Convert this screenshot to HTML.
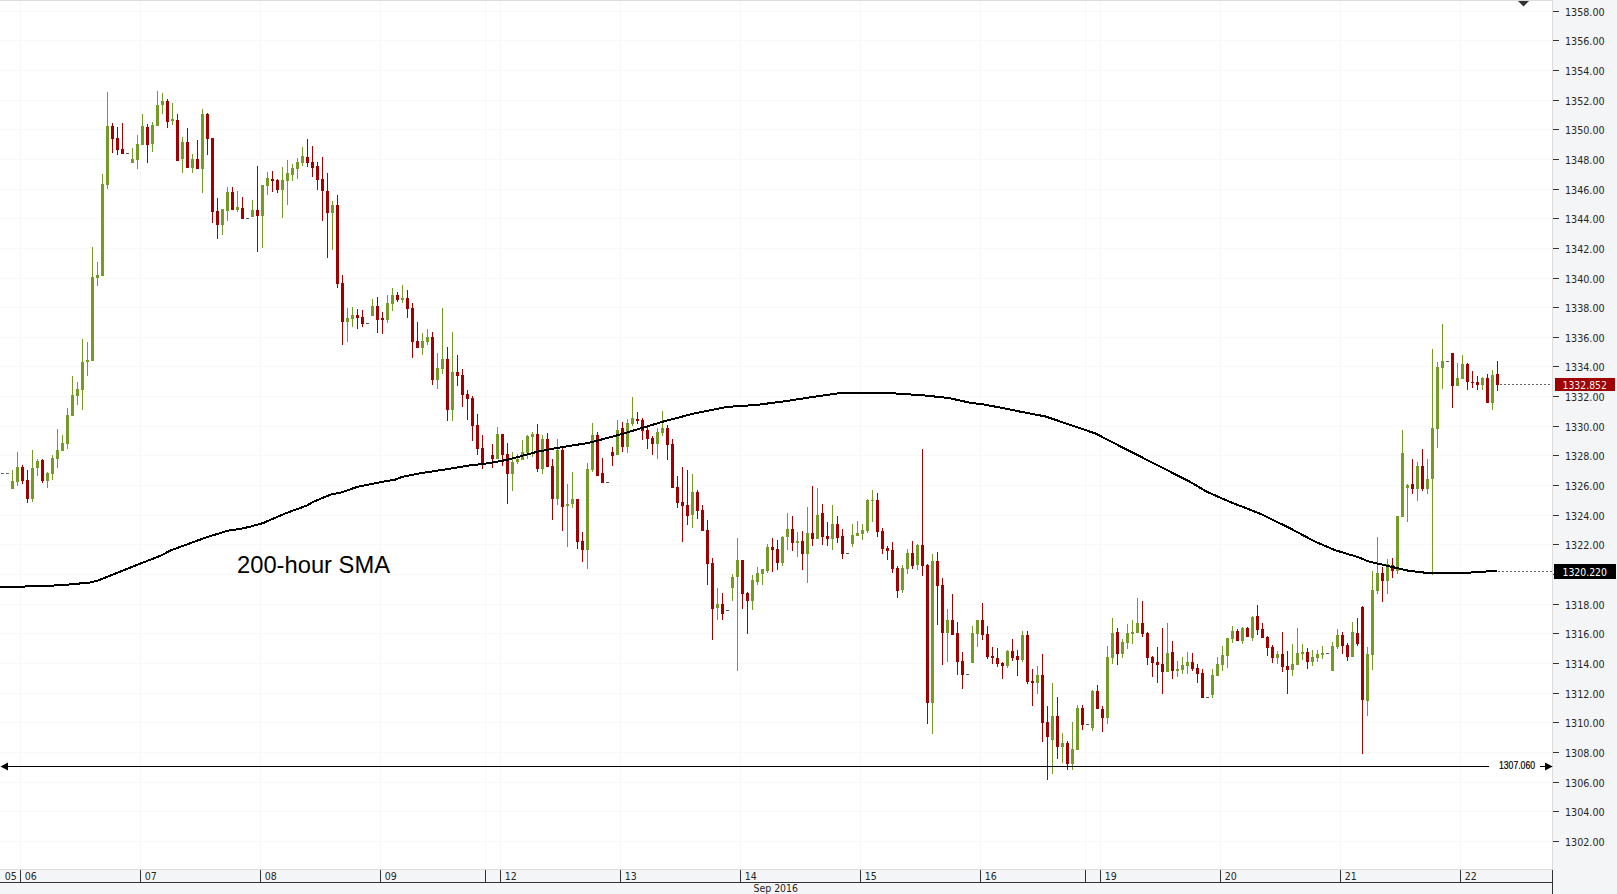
<!DOCTYPE html>
<html lang="en"><head><meta charset="utf-8"><title>XAU/USD 1H Chart</title>
<style>html,body{margin:0;padding:0;background:#fff;}body{width:1617px;height:894px;overflow:hidden;}svg{display:block;}text{font-family:"Liberation Sans",Arial,sans-serif;}.ax{font-family:"DejaVu Sans Condensed","DejaVu Sans","Liberation Sans",sans-serif;}</style>
</head><body>
<svg width="1617" height="894" viewBox="0 0 1617 894">
<rect x="0" y="0" width="1617" height="894" fill="#ffffff"/>
<g shape-rendering="crispEdges">
<rect x="1553" y="0" width="64" height="894" fill="#f4f5f7"/>
<rect x="0" y="870" width="1553" height="24" fill="#f4f5f7"/>
<path d="M0 11.5H1552M0 40.5H1552M0 70.5H1552M0 100.5H1552M0 129.5H1552M0 159.5H1552M0 189.5H1552M0 218.5H1552M0 248.5H1552M0 278.5H1552M0 307.5H1552M0 337.5H1552M0 366.5H1552M0 396.5H1552M0 426.5H1552M0 455.5H1552M0 485.5H1552M0 515.5H1552M0 544.5H1552M0 574.5H1552M0 604.5H1552M0 633.5H1552M0 663.5H1552M0 693.5H1552M0 722.5H1552M0 752.5H1552M0 782.5H1552M0 811.5H1552M0 841.5H1552M20.5 1V869M140.5 1V869M260.5 1V869M380.5 1V869M485.5 1V869M500.5 1V869M620.5 1V869M740.5 1V869M860.5 1V869M980.5 1V869M1085.5 1V869M1100.5 1V869M1220.5 1V869M1340.5 1V869M1460.5 1V869" stroke="#f8f8f8" stroke-width="1" fill="none"/>
<rect x="0" y="0" width="1553" height="1" fill="#dcdcdc"/>
<rect x="1552" y="0" width="1" height="870" fill="#dcdcdc"/>
<rect x="0" y="869" width="1552" height="1" fill="#dcdcdc"/>
<rect x="1552" y="870" width="1" height="24" fill="#333"/>
<rect x="0" y="882" width="1553" height="1" fill="#333"/>
<path d="M20.5 870V882M140.5 870V882M260.5 870V882M380.5 870V882M485.5 870V882M500.5 870V882M620.5 870V882M740.5 870V882M860.5 870V882M980.5 870V882M1085.5 870V882M1100.5 870V882M1220.5 870V882M1340.5 870V882M1460.5 870V882M1553 11.5H1559M1553 40.5H1559M1553 70.5H1559M1553 100.5H1559M1553 129.5H1559M1553 159.5H1559M1553 189.5H1559M1553 218.5H1559M1553 248.5H1559M1553 278.5H1559M1553 307.5H1559M1553 337.5H1559M1553 366.5H1559M1553 396.5H1559M1553 426.5H1559M1553 455.5H1559M1553 485.5H1559M1553 515.5H1559M1553 544.5H1559M1553 574.5H1559M1553 604.5H1559M1553 633.5H1559M1553 663.5H1559M1553 693.5H1559M1553 722.5H1559M1553 752.5H1559M1553 782.5H1559M1553 811.5H1559M1553 841.5H1559" stroke="#333" stroke-width="1" fill="none"/>
</g>
<path d="M1518 1H1529L1523.5 6.5Z" fill="#333"/>
<path d="M1 473.5H4M6 473.5H9" stroke="#666" stroke-width="1" shape-rendering="crispEdges"/>
<g shape-rendering="crispEdges">
<path d="M12 470h1V489h-1zM11 481h3V489h-3zM17 452h1V486h-1zM16 467h3V482h-3zM32 450h1V502h-1zM31 468h3V499h-3zM37 459h1V476h-1zM36 461h3V468h-3zM47 472h1V488h-1zM46 473h3V481h-3zM52 455h1V480h-1zM51 458h3V474h-3zM57 429h1V468h-1zM56 450h3V459h-3zM62 435h1V451h-1zM61 443h3V451h-3zM67 408h1V449h-1zM66 415h3V444h-3zM72 376h1V416h-1zM71 395h3V416h-3zM77 382h1V405h-1zM76 389h3V396h-3zM82 339h1V410h-1zM81 362h3V390h-3zM87 342h1V376h-1zM86 360h3V362h-3zM92 247h1V361h-1zM91 277h3V361h-3zM97 262h1V286h-1zM96 275h3V278h-3zM102 174h1V276h-1zM101 184h3V276h-3zM107 92h1V189h-1zM106 126h3V185h-3zM132 148h1V163h-1zM131 159h3V163h-3zM137 135h1V169h-1zM136 144h3V160h-3zM142 114h1V145h-1zM141 126h3V145h-3zM152 122h1V152h-1zM151 125h3V144h-3zM157 91h1V126h-1zM156 105h3V126h-3zM162 93h1V114h-1zM161 101h3V105h-3zM172 103h1V125h-1zM171 119h3V121h-3zM182 137h1V173h-1zM181 142h3V159h-3zM192 154h1V173h-1zM191 159h3V168h-3zM202 109h1V193h-1zM201 114h3V169h-3zM222 209h1V235h-1zM221 209h3V225h-3zM227 187h1V221h-1zM226 192h3V211h-3zM237 191h1V212h-1zM236 207h3V210h-3zM252 200h1V217h-1zM251 210h3V217h-3zM262 185h1V248h-1zM261 185h3V216h-3zM267 172h1V195h-1zM266 178h3V186h-3zM282 167h1V218h-1zM281 180h3V190h-3zM287 160h1V205h-1zM286 173h3V181h-3zM292 164h1V181h-1zM291 168h3V175h-3zM297 158h1V179h-1zM296 162h3V169h-3zM302 147h1V166h-1zM301 156h3V163h-3zM332 201h1V250h-1zM331 205h3V213h-3zM347 308h1V342h-1zM346 318h3V322h-3zM352 307h1V327h-1zM351 315h3V319h-3zM372 299h1V316h-1zM371 306h3V316h-3zM387 295h1V323h-1zM386 303h3V320h-3zM392 288h1V311h-1zM391 295h3V304h-3zM402 285h1V303h-1zM401 298h3V300h-3zM422 333h1V355h-1zM421 341h3V348h-3zM427 329h1V345h-1zM426 337h3V342h-3zM437 353h1V389h-1zM436 368h3V380h-3zM442 308h1V374h-1zM441 359h3V369h-3zM452 332h1V421h-1zM451 372h3V410h-3zM497 427h1V459h-1zM496 434h3V459h-3zM512 452h1V491h-1zM511 462h3V474h-3zM517 454h1V464h-1zM516 459h3V462h-3zM522 440h1V460h-1zM521 452h3V460h-3zM527 435h1V459h-1zM526 436h3V453h-3zM532 432h1V457h-1zM531 434h3V437h-3zM542 435h1V474h-1zM541 439h3V469h-3zM557 439h1V505h-1zM556 450h3V499h-3zM567 484h1V547h-1zM566 504h3V506h-3zM572 472h1V508h-1zM571 499h3V504h-3zM587 463h1V569h-1zM586 469h3V550h-3zM592 423h1V472h-1zM591 435h3V470h-3zM617 420h1V455h-1zM616 430h3V455h-3zM627 419h1V453h-1zM626 423h3V447h-3zM632 397h1V426h-1zM631 418h3V424h-3zM657 428h1V459h-1zM656 432h3V444h-3zM662 411h1V436h-1zM661 428h3V433h-3zM692 474h1V528h-1zM691 492h3V515h-3zM717 588h1V620h-1zM716 604h3V608h-3zM732 574h1V601h-1zM731 577h3V588h-3zM737 538h1V671h-1zM736 560h3V577h-3zM752 575h1V610h-1zM751 580h3V601h-3zM757 567h1V585h-1zM756 573h3V582h-3zM762 569h1V585h-1zM761 569h3V574h-3zM767 544h1V573h-1zM766 547h3V571h-3zM782 536h1V566h-1zM781 537h3V563h-3zM787 513h1V550h-1zM786 529h3V537h-3zM797 532h1V557h-1zM796 541h3V543h-3zM807 507h1V583h-1zM806 533h3V554h-3zM817 488h1V539h-1zM816 515h3V539h-3zM832 505h1V550h-1zM831 524h3V539h-3zM852 524h1V547h-1zM851 535h3V544h-3zM857 521h1V536h-1zM856 533h3V536h-3zM862 524h1V540h-1zM861 530h3V534h-3zM867 499h1V533h-1zM866 500h3V531h-3zM872 490h1V522h-1zM871 500h3V501h-3zM902 565h1V593h-1zM901 568h3V590h-3zM907 549h1V574h-1zM906 553h3V569h-3zM917 544h1V570h-1zM916 545h3V565h-3zM932 554h1V734h-1zM931 561h3V703h-3zM947 609h1V662h-1zM946 620h3V633h-3zM972 626h1V663h-1zM971 633h3V663h-3zM977 620h1V647h-1zM976 620h3V634h-3zM1007 650h1V668h-1zM1006 651h3V666h-3zM1022 631h1V662h-1zM1021 635h3V660h-3zM1037 666h1V694h-1zM1036 675h3V683h-3zM1052 683h1V774h-1zM1051 716h3V740h-3zM1062 733h1V763h-1zM1061 743h3V747h-3zM1072 722h1V770h-1zM1071 749h3V764h-3zM1077 705h1V750h-1zM1076 708h3V750h-3zM1092 690h1V731h-1zM1091 691h3V728h-3zM1107 646h1V724h-1zM1106 657h3V718h-3zM1112 618h1V664h-1zM1111 633h3V658h-3zM1122 639h1V658h-1zM1121 642h3V654h-3zM1127 624h1V649h-1zM1126 633h3V643h-3zM1132 620h1V644h-1zM1131 632h3V634h-3zM1137 598h1V633h-1zM1136 623h3V633h-3zM1167 623h1V672h-1zM1166 653h3V672h-3zM1177 661h1V677h-1zM1176 669h3V671h-3zM1182 657h1V674h-1zM1181 665h3V670h-3zM1187 652h1V674h-1zM1186 662h3V666h-3zM1212 669h1V698h-1zM1211 675h3V695h-3zM1217 657h1V676h-1zM1216 664h3V676h-3zM1222 646h1V671h-1zM1221 655h3V665h-3zM1227 638h1V668h-1zM1226 638h3V656h-3zM1232 626h1V643h-1zM1231 631h3V639h-3zM1242 627h1V644h-1zM1241 628h3V641h-3zM1252 616h1V641h-1zM1251 617h3V638h-3zM1277 651h1V664h-1zM1276 654h3V658h-3zM1292 644h1V676h-1zM1291 664h3V670h-3zM1297 628h1V665h-1zM1296 653h3V665h-3zM1302 644h1V660h-1zM1301 652h3V654h-3zM1312 650h1V666h-1zM1311 657h3V662h-3zM1317 650h1V662h-1zM1316 654h3V658h-3zM1322 646h1V659h-1zM1321 653h3V655h-3zM1332 642h1V671h-1zM1331 646h3V671h-3zM1337 629h1V649h-1zM1336 635h3V647h-3zM1352 622h1V657h-1zM1351 632h3V657h-3zM1367 647h1V716h-1zM1366 654h3V701h-3zM1372 571h1V670h-1zM1371 590h3V655h-3zM1377 537h1V594h-1zM1376 573h3V591h-3zM1387 559h1V594h-1zM1386 564h3V581h-3zM1397 516h1V574h-1zM1396 516h3V571h-3zM1402 430h1V517h-1zM1401 453h3V517h-3zM1407 484h1V522h-1zM1406 485h3V488h-3zM1417 462h1V501h-1zM1416 466h3V489h-3zM1427 459h1V494h-1zM1426 479h3V489h-3zM1432 349h1V575h-1zM1431 428h3V479h-3zM1437 362h1V448h-1zM1436 367h3V429h-3zM1442 324h1V389h-1zM1441 361h3V368h-3zM1457 363h1V386h-1zM1456 378h3V386h-3zM1462 355h1V379h-1zM1461 364h3V379h-3zM1482 377h1V390h-1zM1481 378h3V385h-3zM1492 370h1V410h-1zM1491 375h3V403h-3z" fill="#759b27"/>
<path d="M22 465h1V484h-1zM21 467h3V481h-3zM27 470h1V503h-1zM26 480h3V499h-3zM42 459h1V483h-1zM41 460h3V481h-3zM112 123h1V153h-1zM111 126h3V139h-3zM117 127h1V155h-1zM116 138h3V150h-3zM122 123h1V154h-1zM121 149h3V154h-3zM147 124h1V163h-1zM146 127h3V145h-3zM167 99h1V128h-1zM166 101h3V122h-3zM177 114h1V161h-1zM176 120h3V161h-3zM187 128h1V168h-1zM186 142h3V168h-3zM197 140h1V169h-1zM196 159h3V169h-3zM207 113h1V155h-1zM206 114h3V139h-3zM212 138h1V223h-1zM211 138h3V212h-3zM217 198h1V239h-1zM216 211h3V225h-3zM232 187h1V210h-1zM231 192h3V210h-3zM242 197h1V219h-1zM241 208h3V219h-3zM257 166h1V252h-1zM256 210h3V216h-3zM272 171h1V192h-1zM271 179h3V181h-3zM277 179h1V193h-1zM276 180h3V190h-3zM307 139h1V167h-1zM306 157h3V163h-3zM312 146h1V177h-1zM311 162h3V168h-3zM317 162h1V190h-1zM316 166h3V180h-3zM322 157h1V221h-1zM321 179h3V191h-3zM327 173h1V258h-1zM326 191h3V213h-3zM337 195h1V288h-1zM336 205h3V284h-3zM342 275h1V345h-1zM341 283h3V322h-3zM357 309h1V329h-1zM356 315h3V318h-3zM362 310h1V327h-1zM361 317h3V324h-3zM377 297h1V333h-1zM376 306h3V320h-3zM382 312h1V334h-1zM381 318h3V320h-3zM397 292h1V302h-1zM396 295h3V300h-3zM407 290h1V318h-1zM406 298h3V309h-3zM412 303h1V358h-1zM411 308h3V342h-3zM417 322h1V348h-1zM416 341h3V348h-3zM432 332h1V385h-1zM431 337h3V380h-3zM447 347h1V421h-1zM446 359h3V410h-3zM457 355h1V386h-1zM456 372h3V376h-3zM462 369h1V407h-1zM461 375h3V395h-3zM467 390h1V420h-1zM466 394h3V399h-3zM472 396h1V441h-1zM471 398h3V426h-3zM477 414h1V455h-1zM476 425h3V449h-3zM482 435h1V469h-1zM481 448h3V464h-3zM492 444h1V468h-1zM491 455h3V459h-3zM502 434h1V466h-1zM501 434h3V455h-3zM507 443h1V504h-1zM506 454h3V474h-3zM537 424h1V472h-1zM536 434h3V469h-3zM547 433h1V467h-1zM546 439h3V467h-3zM552 459h1V520h-1zM551 466h3V499h-3zM562 448h1V531h-1zM561 450h3V507h-3zM577 499h1V549h-1zM576 499h3V542h-3zM582 532h1V562h-1zM581 541h3V550h-3zM597 432h1V476h-1zM596 435h3V476h-3zM602 458h1V483h-1zM601 473h3V483h-3zM612 447h1V466h-1zM611 452h3V456h-3zM622 422h1V452h-1zM621 428h3V447h-3zM637 412h1V424h-1zM636 419h3V421h-3zM642 418h1V440h-1zM641 420h3V431h-3zM647 427h1V449h-1zM646 430h3V439h-3zM652 436h1V455h-1zM651 438h3V444h-3zM667 425h1V460h-1zM666 428h3V445h-3zM672 439h1V488h-1zM671 444h3V488h-3zM677 476h1V508h-1zM676 487h3V503h-3zM682 467h1V542h-1zM681 502h3V506h-3zM687 470h1V525h-1zM686 505h3V516h-3zM697 490h1V519h-1zM696 492h3V511h-3zM702 505h1V531h-1zM701 510h3V531h-3zM707 520h1V585h-1zM706 530h3V564h-3zM712 558h1V640h-1zM711 563h3V609h-3zM722 593h1V620h-1zM721 604h3V614h-3zM742 560h1V609h-1zM741 560h3V594h-3zM747 592h1V634h-1zM746 593h3V601h-3zM772 538h1V572h-1zM771 547h3V550h-3zM777 540h1V570h-1zM776 549h3V563h-3zM792 516h1V551h-1zM791 529h3V543h-3zM802 531h1V570h-1zM801 541h3V554h-3zM812 486h1V546h-1zM811 533h3V539h-3zM822 504h1V545h-1zM821 513h3V537h-3zM827 522h1V546h-1zM826 536h3V539h-3zM837 516h1V543h-1zM836 524h3V538h-3zM842 529h1V559h-1zM841 536h3V554h-3zM877 493h1V537h-1zM876 500h3V532h-3zM882 528h1V554h-1zM881 531h3V549h-3zM887 546h1V560h-1zM886 548h3V551h-3zM892 542h1V573h-1zM891 550h3V569h-3zM897 566h1V598h-1zM896 568h3V591h-3zM912 541h1V569h-1zM911 553h3V566h-3zM922 449h1V576h-1zM921 545h3V566h-3zM927 564h1V724h-1zM926 565h3V703h-3zM937 552h1V625h-1zM936 561h3V586h-3zM942 578h1V665h-1zM941 585h3V633h-3zM952 594h1V635h-1zM951 620h3V635h-3zM957 622h1V675h-1zM956 633h3V662h-3zM962 652h1V689h-1zM961 661h3V675h-3zM982 603h1V640h-1zM981 620h3V635h-3zM987 626h1V659h-1zM986 634h3V657h-3zM992 647h1V664h-1zM991 656h3V658h-3zM997 648h1V667h-1zM996 658h3V664h-3zM1002 662h1V679h-1zM1001 663h3V666h-3zM1012 639h1V661h-1zM1011 651h3V658h-3zM1017 650h1V676h-1zM1016 656h3V660h-3zM1027 631h1V684h-1zM1026 635h3V682h-3zM1032 669h1V706h-1zM1031 681h3V683h-3zM1042 654h1V742h-1zM1041 675h3V723h-3zM1047 706h1V780h-1zM1046 722h3V737h-3zM1057 697h1V759h-1zM1056 716h3V747h-3zM1067 741h1V770h-1zM1066 743h3V764h-3zM1082 705h1V730h-1zM1081 708h3V725h-3zM1097 685h1V709h-1zM1096 691h3V709h-3zM1102 706h1V732h-1zM1101 709h3V718h-3zM1117 628h1V665h-1zM1116 632h3V654h-3zM1142 601h1V637h-1zM1141 623h3V634h-3zM1147 632h1V665h-1zM1146 633h3V658h-3zM1152 656h1V677h-1zM1151 657h3V663h-3zM1157 647h1V683h-1zM1156 662h3V665h-3zM1162 628h1V694h-1zM1161 664h3V672h-3zM1172 641h1V679h-1zM1171 652h3V671h-3zM1192 653h1V671h-1zM1191 662h3V669h-3zM1197 664h1V683h-1zM1196 668h3V674h-3zM1202 669h1V698h-1zM1201 673h3V698h-3zM1237 629h1V641h-1zM1236 631h3V641h-3zM1247 627h1V637h-1zM1246 628h3V637h-3zM1257 605h1V635h-1zM1256 616h3V630h-3zM1262 623h1V638h-1zM1261 629h3V638h-3zM1267 636h1V656h-1zM1266 637h3V648h-3zM1272 645h1V663h-1zM1271 647h3V658h-3zM1282 632h1V672h-1zM1281 654h3V667h-3zM1287 651h1V694h-1zM1286 666h3V670h-3zM1307 648h1V669h-1zM1306 652h3V662h-3zM1342 632h1V654h-1zM1341 635h3V646h-3zM1347 643h1V661h-1zM1346 645h3V657h-3zM1357 618h1V646h-1zM1356 633h3V644h-3zM1362 606h1V754h-1zM1361 607h3V700h-3zM1382 567h1V602h-1zM1381 573h3V581h-3zM1392 558h1V578h-1zM1391 565h3V571h-3zM1412 459h1V494h-1zM1411 484h3V489h-3zM1422 449h1V491h-1zM1421 466h3V489h-3zM1452 353h1V408h-1zM1451 353h3V386h-3zM1467 363h1V390h-1zM1466 364h3V382h-3zM1472 371h1V388h-1zM1471 382h3V383h-3zM1477 376h1V390h-1zM1476 382h3V385h-3zM1487 374h1V403h-1zM1486 378h3V403h-3zM1497 361h1V391h-1zM1496 374h3V385h-3z" fill="#a00000"/>
<path d="M126 153h3v1h-3zM246 218h3v1h-3zM366 323h3v1h-3zM606 482h3v1h-3zM726 610h3v1h-3zM846 553h3v1h-3zM966 674h3v1h-3zM1086 724h3v1h-3zM1206 697h3v1h-3zM1326 653h3v1h-3zM1446 361h3v1h-3z" fill="#555555"/>
</g>
<polyline points="0.0,587.0 35.6,586.3 61.8,585.2 91.2,582.4 98.9,580.2 123.7,570.2 140.7,563.5 162.3,555.0 170.0,550.7 182.4,546.1 205.6,537.6 227.3,530.8 240.0,528.9 249.3,526.9 263.2,523.0 286.4,513.0 306.5,505.7 314.2,501.4 331.2,494.4 342.0,492.3 357.5,486.8 380.7,482.1 396.2,479.4 402.3,476.8 422.4,472.9 441.0,470.1 471.9,465.0 482.4,464.2 490.0,462.9 507.5,459.8 537.4,451.7 562.5,447.0 585.0,443.5 592.4,442.0 622.4,433.9 662.4,421.8 692.4,413.9 727.5,406.8 745.0,405.8 759.7,404.5 785.7,401.2 811.6,397.1 837.6,393.4 852.4,393.0 887.7,393.0 908.1,394.3 922.9,395.3 948.9,398.0 971.2,403.0 984.2,404.5 1008.3,409.2 1020.0,411.6 1030.0,413.5 1045.2,416.4 1078.9,427.8 1095.7,433.6 1125.1,448.8 1156.7,464.8 1192.4,483.1 1207.1,491.9 1230.3,502.0 1259.7,513.5 1289.1,527.8 1314.4,541.3 1335.4,550.3 1345.0,553.2 1360.0,557.7 1367.4,561.2 1392.4,567.0 1408.0,570.6 1424.2,572.6 1469.8,572.6 1486.0,571.5 1497.0,571.0" fill="none" stroke="#000" stroke-width="2" stroke-linejoin="round" shape-rendering="crispEdges"/>
<g shape-rendering="crispEdges" stroke="#666" stroke-width="1" stroke-dasharray="2 2">
<path d="M1500 384.5H1552"/>
<path d="M1498 571.5H1552"/>
</g>
<g shape-rendering="crispEdges"><rect x="6" y="766" width="1483" height="1" fill="#000"/><rect x="1540" y="766" width="8" height="1" fill="#000"/></g>
<path d="M0.5 766.5L8 762.5V770.5Z" fill="#000"/>
<path d="M1552.7 766.5L1545 762.5V770.5Z" fill="#000"/>
<text x="1499" y="769" font-size="10" fill="#000" stroke="#000" stroke-width="0.2" textLength="36" lengthAdjust="spacingAndGlyphs">1307.060</text>
<text x="237" y="572.7" font-size="23.2" fill="#000" textLength="153" lengthAdjust="spacingAndGlyphs">200-hour SMA</text>
<text class="ax" x="1565" y="16" font-size="11" fill="#262626" textLength="39.6" lengthAdjust="spacingAndGlyphs">1358.00</text>
<text class="ax" x="1565" y="45" font-size="11" fill="#262626" textLength="39.6" lengthAdjust="spacingAndGlyphs">1356.00</text>
<text class="ax" x="1565" y="75" font-size="11" fill="#262626" textLength="39.6" lengthAdjust="spacingAndGlyphs">1354.00</text>
<text class="ax" x="1565" y="105" font-size="11" fill="#262626" textLength="39.6" lengthAdjust="spacingAndGlyphs">1352.00</text>
<text class="ax" x="1565" y="134" font-size="11" fill="#262626" textLength="39.6" lengthAdjust="spacingAndGlyphs">1350.00</text>
<text class="ax" x="1565" y="164" font-size="11" fill="#262626" textLength="39.6" lengthAdjust="spacingAndGlyphs">1348.00</text>
<text class="ax" x="1565" y="194" font-size="11" fill="#262626" textLength="39.6" lengthAdjust="spacingAndGlyphs">1346.00</text>
<text class="ax" x="1565" y="223" font-size="11" fill="#262626" textLength="39.6" lengthAdjust="spacingAndGlyphs">1344.00</text>
<text class="ax" x="1565" y="253" font-size="11" fill="#262626" textLength="39.6" lengthAdjust="spacingAndGlyphs">1342.00</text>
<text class="ax" x="1565" y="283" font-size="11" fill="#262626" textLength="39.6" lengthAdjust="spacingAndGlyphs">1340.00</text>
<text class="ax" x="1565" y="312" font-size="11" fill="#262626" textLength="39.6" lengthAdjust="spacingAndGlyphs">1338.00</text>
<text class="ax" x="1565" y="342" font-size="11" fill="#262626" textLength="39.6" lengthAdjust="spacingAndGlyphs">1336.00</text>
<text class="ax" x="1565" y="371" font-size="11" fill="#262626" textLength="39.6" lengthAdjust="spacingAndGlyphs">1334.00</text>
<text class="ax" x="1565" y="401" font-size="11" fill="#262626" textLength="39.6" lengthAdjust="spacingAndGlyphs">1332.00</text>
<text class="ax" x="1565" y="431" font-size="11" fill="#262626" textLength="39.6" lengthAdjust="spacingAndGlyphs">1330.00</text>
<text class="ax" x="1565" y="460" font-size="11" fill="#262626" textLength="39.6" lengthAdjust="spacingAndGlyphs">1328.00</text>
<text class="ax" x="1565" y="490" font-size="11" fill="#262626" textLength="39.6" lengthAdjust="spacingAndGlyphs">1326.00</text>
<text class="ax" x="1565" y="520" font-size="11" fill="#262626" textLength="39.6" lengthAdjust="spacingAndGlyphs">1324.00</text>
<text class="ax" x="1565" y="549" font-size="11" fill="#262626" textLength="39.6" lengthAdjust="spacingAndGlyphs">1322.00</text>
<text class="ax" x="1565" y="579" font-size="11" fill="#262626" textLength="39.6" lengthAdjust="spacingAndGlyphs">1320.00</text>
<text class="ax" x="1565" y="609" font-size="11" fill="#262626" textLength="39.6" lengthAdjust="spacingAndGlyphs">1318.00</text>
<text class="ax" x="1565" y="638" font-size="11" fill="#262626" textLength="39.6" lengthAdjust="spacingAndGlyphs">1316.00</text>
<text class="ax" x="1565" y="668" font-size="11" fill="#262626" textLength="39.6" lengthAdjust="spacingAndGlyphs">1314.00</text>
<text class="ax" x="1565" y="698" font-size="11" fill="#262626" textLength="39.6" lengthAdjust="spacingAndGlyphs">1312.00</text>
<text class="ax" x="1565" y="727" font-size="11" fill="#262626" textLength="39.6" lengthAdjust="spacingAndGlyphs">1310.00</text>
<text class="ax" x="1565" y="757" font-size="11" fill="#262626" textLength="39.6" lengthAdjust="spacingAndGlyphs">1308.00</text>
<text class="ax" x="1565" y="787" font-size="11" fill="#262626" textLength="39.6" lengthAdjust="spacingAndGlyphs">1306.00</text>
<text class="ax" x="1565" y="816" font-size="11" fill="#262626" textLength="39.6" lengthAdjust="spacingAndGlyphs">1304.00</text>
<text class="ax" x="1565" y="846" font-size="11" fill="#262626" textLength="39.6" lengthAdjust="spacingAndGlyphs">1302.00</text>
<text class="ax" x="4.7" y="880" font-size="11" fill="#262626" textLength="12" lengthAdjust="spacingAndGlyphs">05</text>
<text class="ax" x="24.7" y="880" font-size="11" fill="#262626" textLength="12" lengthAdjust="spacingAndGlyphs">06</text>
<text class="ax" x="144.7" y="880" font-size="11" fill="#262626" textLength="12" lengthAdjust="spacingAndGlyphs">07</text>
<text class="ax" x="264.7" y="880" font-size="11" fill="#262626" textLength="12" lengthAdjust="spacingAndGlyphs">08</text>
<text class="ax" x="384.7" y="880" font-size="11" fill="#262626" textLength="12" lengthAdjust="spacingAndGlyphs">09</text>
<text class="ax" x="504.7" y="880" font-size="11" fill="#262626" textLength="12" lengthAdjust="spacingAndGlyphs">12</text>
<text class="ax" x="624.7" y="880" font-size="11" fill="#262626" textLength="12" lengthAdjust="spacingAndGlyphs">13</text>
<text class="ax" x="744.7" y="880" font-size="11" fill="#262626" textLength="12" lengthAdjust="spacingAndGlyphs">14</text>
<text class="ax" x="864.7" y="880" font-size="11" fill="#262626" textLength="12" lengthAdjust="spacingAndGlyphs">15</text>
<text class="ax" x="984.7" y="880" font-size="11" fill="#262626" textLength="12" lengthAdjust="spacingAndGlyphs">16</text>
<text class="ax" x="1104.7" y="880" font-size="11" fill="#262626" textLength="12" lengthAdjust="spacingAndGlyphs">19</text>
<text class="ax" x="1224.7" y="880" font-size="11" fill="#262626" textLength="12" lengthAdjust="spacingAndGlyphs">20</text>
<text class="ax" x="1344.7" y="880" font-size="11" fill="#262626" textLength="12" lengthAdjust="spacingAndGlyphs">21</text>
<text class="ax" x="1464.7" y="880" font-size="11" fill="#262626" textLength="12" lengthAdjust="spacingAndGlyphs">22</text>
<text class="ax" x="753.5" y="892" font-size="11" fill="#262626" textLength="44.5" lengthAdjust="spacingAndGlyphs">Sep 2016</text>
<g shape-rendering="crispEdges">
<rect x="1554" y="377" width="62" height="15" fill="#e9f1f1"/>
<rect x="1555" y="378" width="60" height="13" fill="#a00000"/>
<rect x="1554" y="564" width="62" height="15" fill="#000"/>
</g>
<text class="ax" x="1562.5" y="389" font-size="11" fill="#eaf4f4" textLength="44.5" lengthAdjust="spacingAndGlyphs">1332.852</text>
<text class="ax" x="1562.5" y="576" font-size="11" fill="#ffffff" textLength="44.5" lengthAdjust="spacingAndGlyphs">1320.220</text>
</svg></body></html>
